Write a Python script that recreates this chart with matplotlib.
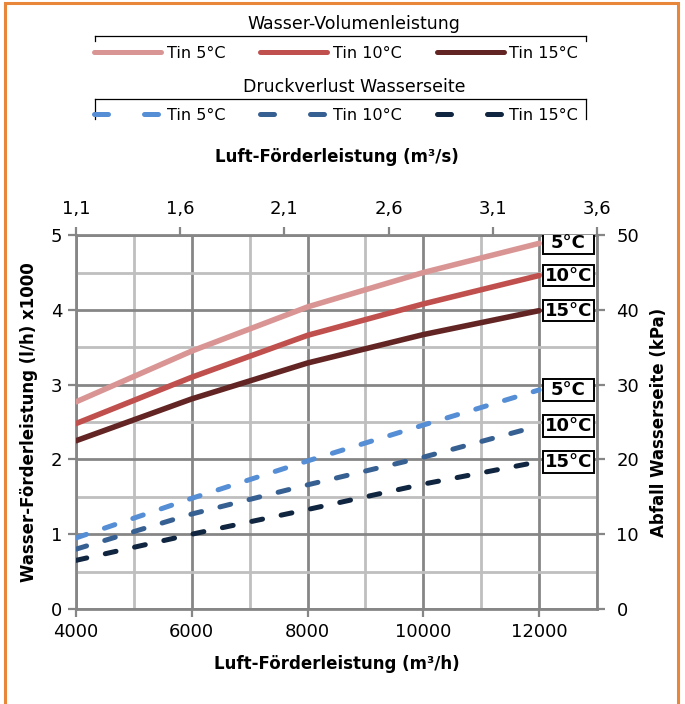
import matplotlib
matplotlib.use("Agg")
import matplotlib.pyplot as plt
from matplotlib.lines import Line2D
from matplotlib.patches import Rectangle
import numpy as np

# data
luft = [4000, 6000, 8000, 10000, 12000]           # m3/h
wasser_5 = [2.77, 3.45, 4.04, 4.50, 4.89]         # l/h x1000
wasser_10 = [2.48, 3.10, 3.66, 4.08, 4.46]
wasser_15 = [2.25, 2.81, 3.29, 3.67, 3.99]
druck_5 = [9.5, 14.8, 19.8, 24.6, 29.3]           # kPa
druck_10 = [8.0, 12.7, 16.6, 20.3, 24.5]
druck_15 = [6.5, 10.0, 13.3, 16.7, 19.7]
temp_labels = ["5°C", "10°C", "15°C"]
legend_labels = ["Tin 5°C", "Tin 10°C", "Tin 15°C"]
top_ticks = [1.1, 1.6, 2.1, 2.6, 3.1, 3.6]

red_cols = ["#D99594", "#C0504D", "#632523"]
blue_cols = ["#558ED5", "#376092", "#10253F"]
grid_dark = "#868686"
grid_light = "#BFBFBF"

plt.rcParams['font.family'] = ['DejaVu Sans']
fig = plt.figure(figsize=(6.85, 7.04), dpi=100)
ax = fig.add_axes([0.111, 0.135, 0.7605, 0.531])

# grid
ax.set_xlim(4000, 13000)
ax.set_ylim(0, 5)
ax.set_xticks(np.arange(4000, 13000, 2000))
ax.set_xticks(np.arange(5000, 13001, 1000), minor=True)
ax.set_yticks(np.arange(0, 5.1, 1))
ax.set_yticks(np.arange(0.5, 5, 1), minor=True)
ax.grid(which="major", color=grid_dark, lw=2.0, zorder=0)
ax.grid(which="minor", color=grid_light, lw=2.0, zorder=0)
ax.set_axisbelow(True)
ax.tick_params(which="minor", length=0)
ax.tick_params(which="major", length=6, width=1.6, color=grid_dark, labelsize=13, pad=4)
for s in ax.spines.values():
    s.set_color(grid_dark)
    s.set_linewidth(2.0)

ax2 = ax.twinx()
ax2.set_ylim(0, 50)
ax2.set_yticks(np.arange(0, 51, 10))
ax2.tick_params(length=6, width=1.6, color=grid_dark, labelsize=13, pad=8)
for s in ax2.spines.values():
    s.set_visible(False)

ax3 = ax.twiny()
ax3.set_xlim(1.1, 3.6)
ax3.set_xticks(top_ticks)
ax3.set_xticklabels([("%.1f" % t).replace(".", ",") for t in top_ticks])
ax3.tick_params(length=6, width=1.6, color=grid_dark, labelsize=13, pad=6)
for s in ax3.spines.values():
    s.set_visible(False)


def tag(axis, y, txt, h):
    # fixed width box with the temperature at the end of a curve
    axis.add_patch(Rectangle((12067, y - h / 2), 880, h, fc="white", ec="black", lw=1.4, zorder=5))
    axis.text(12507, y, txt, fontsize=13, fontweight="bold", ha="center", va="center", zorder=6)


# water flow curves (left axis)
for vals, c, lab in zip([wasser_5, wasser_10, wasser_15], red_cols, temp_labels):
    ax.plot(luft, vals, color=c, lw=4.0, solid_capstyle="round", zorder=3)
    tag(ax, vals[-1], lab, 0.29)

# pressure drop curves (right axis)
for vals, c, lab in zip([druck_5, druck_10, druck_15], blue_cols, temp_labels):
    ax2.plot(luft, vals, color=c, lw=3.6, ls=(0, (2.2, 3.8)), dash_capstyle="round", zorder=3)
    tag(ax2, vals[-1], lab, 2.9)

ax.set_xlabel("Luft-Förderleistung (m³/h)", fontsize=12, fontweight="bold", labelpad=10)
ax.set_ylabel("Wasser-Förderleistung (l/h) x1000", fontsize=12, fontweight="bold", labelpad=9)
ax2.set_ylabel("Abfall Wasserseite (kPa)", fontsize=12, fontweight="bold", labelpad=8)
ax3.set_xlabel("Luft-Förderleistung (m³/s)", fontsize=12, fontweight="bold", labelpad=28)

# legends
solid_h = [Line2D([], [], color=c, lw=3.6, solid_capstyle="round") for c in red_cols]
dash_h = [Line2D([], [], color=c, lw=3.6, ls=(0, (2.8, 7.2)), dash_capstyle="round") for c in blue_cols]
for hs, title, yrow, ytitle, ytop in [(solid_h, "Wasser-Volumenleistung", 53, 24, 36),
                                      (dash_h, "Druckverlust Wasserseite", 115, 87, 99)]:
    fig.legend(hs, legend_labels, ncol=3, loc="center", bbox_to_anchor=(336 / 685, 1 - yrow / 704),
               frameon=False, fontsize=11.5, handlelength=4.2, handletextpad=0.35,
               columnspacing=2.2, borderaxespad=0, borderpad=0)
    fig.text(354 / 685, 1 - ytitle / 704, title, fontsize=12.5, ha="center", va="center")
    x0, x1 = 95 / 685, 586 / 685
    yt = 1 - ytop / 704
    yb = 1 - (ytop + (5 if ytop < 50 else 20)) / 704
    fig.add_artist(Line2D([x0, x1], [yt, yt], color="black", lw=0.9))
    fig.add_artist(Line2D([x0, x0], [yt, yb], color="black", lw=0.9))
    fig.add_artist(Line2D([x1, x1], [yt, yb], color="black", lw=0.9))

# orange outer border
fig.add_artist(Rectangle((4.5 / 685, -0.05), 673.5 / 685, 1.05 - 3 / 704, transform=fig.transFigure,
                         fill=False, ec="#E8873A", lw=2.2))

fig.savefig("out.png", dpi=100)
